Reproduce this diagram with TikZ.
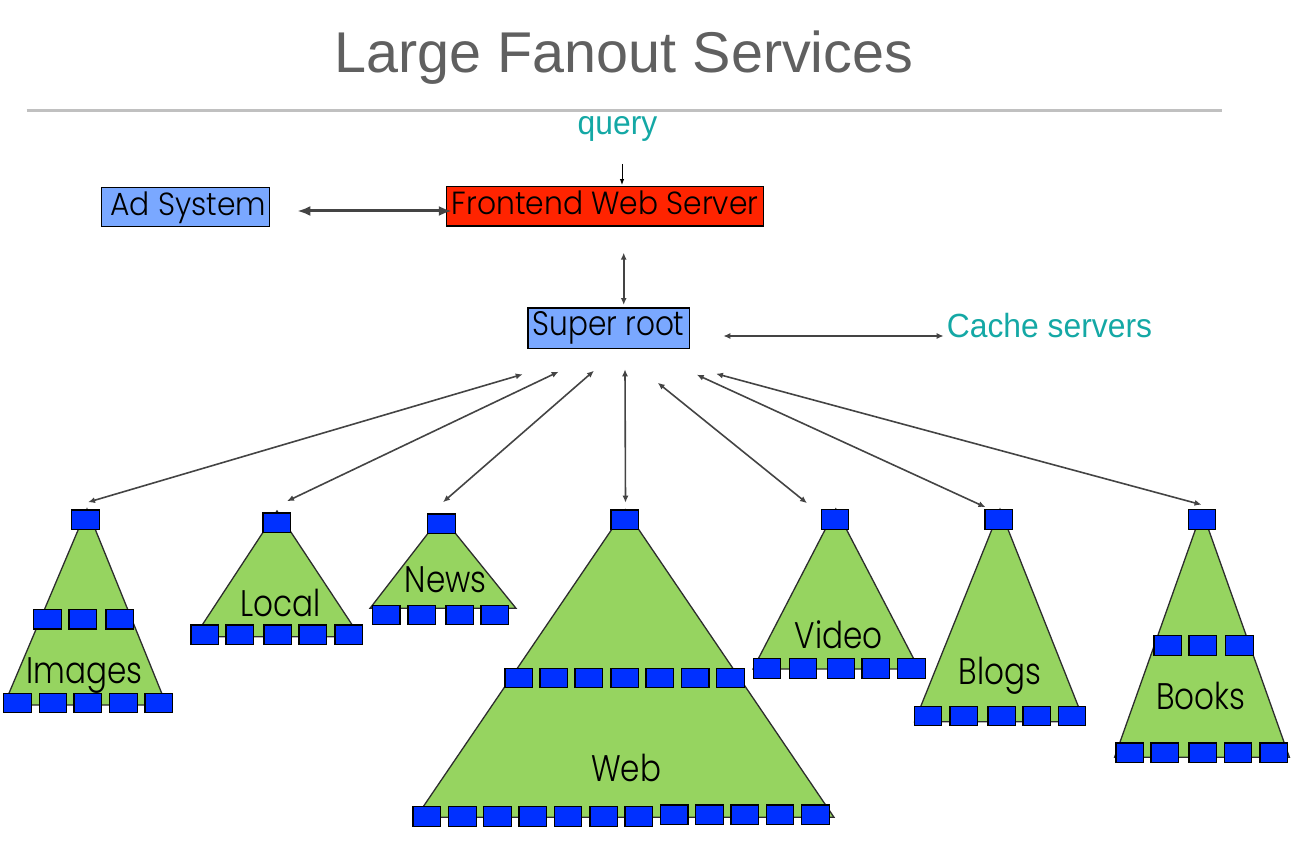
\documentclass[tikz,border=0pt]{standalone}
\usepackage{fontspec}
\setmainfont{Liberation Sans}
\newfontfamily\geo[FakeStretch=0.84]{Poppins Light}
\newfontfamily\geobox[FakeStretch=0.93]{Poppins Light}
\newfontfamily\geosr[FakeStretch=0.87]{Poppins Light}
\newfontfamily\nar[FakeStretch=0.95]{Liberation Sans}
\usetikzlibrary{arrows.meta}
\definecolor{sqblue}{RGB}{0,48,255}
\definecolor{trigreen}{RGB}{150,212,96}
\definecolor{triline}{RGB}{45,45,45}
\definecolor{boxblue}{RGB}{122,168,255}
\definecolor{boxred}{RGB}{255,36,0}
\definecolor{tealtxt}{RGB}{20,168,165}
\definecolor{titlegray}{RGB}{96,96,96}
\definecolor{rulegray}{RGB}{192,192,192}
\definecolor{arrowgray}{RGB}{68,68,68}
\begin{document}
\begin{tikzpicture}[x=1pt,y=-1pt,
  sq/.style={draw=black, line width=1.2pt, fill=sqblue, minimum width=27.6pt, minimum height=19.6pt, inner sep=0pt, outer sep=0pt},
  tri/.style={draw=triline, line width=1.3pt, fill=trigreen, line join=miter},
  box/.style={draw=black, line width=1.2pt, inner sep=0pt, outer sep=0pt, text=black},
  lbl/.style={anchor=base, inner sep=0pt, font=\geo\fontsize{37}{40}\selectfont},
  teallbl/.style={inner sep=0pt, text=tealtxt, font=\nar\fontsize{33.5}{36}\selectfont},
  conn/.style={draw=arrowgray, line width=1.6pt, >={Latex[length=7pt,width=6pt]}, <->},
  qarr/.style={draw=black, line width=1pt, ->, >={Latex[length=6pt,width=4.5pt]}}
]
\useasboundingbox (0,0) rectangle (1293,845);

% title and rule
\node[anchor=base, inner sep=0pt, text=titlegray, font=\fontsize{57.5}{60}\selectfont] (title) at (624,72.3) {Large Fanout Services};
\draw[rulegray, line width=3pt] (26.7,110.8) -- (1222,110.8);

% top boxes
\node[teallbl, anchor=base] (query) at (617.5,134.3) {query};
\node[box, fill=boxblue, minimum width=168pt, minimum height=39.4pt, text height=22.5pt, text depth=5pt, font=\geobox\fontsize{32}{34}\selectfont] (ad) at (185.7,207) {\hspace*{5pt}Ad System};
\node[box, fill=boxred, minimum width=317pt, minimum height=39.5pt, text height=22.5pt, text depth=6.6pt, font=\geobox\fontsize{32}{34}\selectfont] (fe) at (605.2,206.3) {Frontend Web Server};
\node[box, fill=boxblue, minimum width=161.2pt, minimum height=40.2pt, text height=24pt, text depth=8.6pt, font=\geosr\fontsize{34}{36}\selectfont] (sr) at (608.5,328) {Super root};
\node[teallbl, anchor=base west] (cache) at (946.7,337) {Cache servers};

% triangles
\draw[tri] (87,509) -- (4,705) -- (166.5,705) -- cycle;
\draw[tri] (277,511) -- (194.5,636.7) -- (360,636.7) -- cycle;
\draw[tri] (441.4,516) -- (370,608.3) -- (516,608.3) -- cycle;
\draw[tri] (625.2,509.6) -- (416,817.3) -- (834,817.3) -- cycle;
\draw[tri] (835.8,509) -- (753,669) -- (919,669) -- cycle;
\draw[tri] (1000,509.3) -- (914.6,721.7) -- (1084.4,721.7) -- cycle;
\draw[tri] (1202,511) -- (1114.6,757.3) -- (1289.4,757.3) -- cycle;

% Images
\node[sq] (img-t) at (85.5,519.7) {};
\foreach \x [count=\i] in {47.5,82.8,119.7} \node[sq] (img-m\i) at (\x,619.2) {};
\foreach \x [count=\i] in {17.5,53,87.8,123.3,158.7} \node[sq] (img-b\i) at (\x,703) {};
\node[lbl] (img-l) at (84.3,683.3) {Images};
% Local
\node[sq] (loc-t) at (276.7,522.8) {};
\foreach \x [count=\i] in {204.8,239.8,277.8,312.8,348.7} \node[sq] (loc-b\i) at (\x,634.7) {};
\node[lbl] (loc-l) at (280.3,616.7) {Local};
% News
\node[sq] (news-t) at (441.3,523.7) {};
\foreach \x [count=\i] in {386.2,421.8,459.8,494.8} \node[sq] (news-b\i) at (\x,615) {};
\node[lbl] (news-l) at (445.8,592.7) {News};
% Web
\node[sq] (web-t) at (624.7,519.7) {};
\foreach \x [count=\i] in {518.8,553.8,588.8,624.7,659.8,695.2,730.3} \node[sq] (web-m\i) at (\x,678) {};
\foreach \x [count=\i] in {426.8,462.3,497.5,532.8,568,603.8,638.8} \node[sq] (web-b\i) at (\x,816.3) {};
\foreach \x [count=\i] in {674.2,709.5,744.7,780,815.5} \node[sq] (web-c\i) at (\x,814.7) {};
\node[lbl] (web-l) at (626.2,781) {Web};
% Video
\node[sq] (vid-t) at (835,519.5) {};
\foreach \x [count=\i] in {767,803,841,875.7,911.3} \node[sq] (vid-b\i) at (\x,668.5) {};
\node[lbl] (vid-l) at (838.5,648) {Video};
% Blogs
\node[sq] (blog-t) at (998.8,519.5) {};
\foreach \x [count=\i] in {928,963.7,1001.7,1036.7,1072} \node[sq] (blog-b\i) at (\x,716) {};
\node[lbl] (blog-l) at (1000,684) {Blogs};
% Books
\node[sq] (book-t) at (1202,519.5) {};
\foreach \x [count=\i] in {1167.8,1202.8,1239.5} \node[sq] (book-m\i) at (\x,645.5) {};
\foreach \x [count=\i] in {1129.8,1164.8,1202.8,1238,1273.7} \node[sq] (book-b\i) at (\x,752.8) {};
\node[lbl] (book-l) at (1201,709) {Books};

% connectors
\coordinate (qx) at (622,0);
\draw[qarr, shorten <=22.4pt, shorten >=1.5pt] (query.south -| qx) -- (fe.north -| qx);
\coordinate (hy) at (0,211);
\draw[draw=arrowgray, line width=3pt, {Latex[length=13pt,width=10pt]}-{Latex[length=13pt,width=10pt]}, shorten <=27.6pt, shorten >=-5.1pt] (ad.east |- hy) -- (fe.west |- hy);
\coordinate (vx) at (623.7,0);
\draw[conn, shorten <=26.6pt, shorten >=2.9pt] (fe.south -| vx) -- (sr.north -| vx);
\coordinate (cy) at (0,336);
\draw[conn, shorten <=34.2pt, shorten >=3pt] (sr.east |- cy) -- (cache.west |- cy);

\coordinate (s1) at (522.7,374.3);
\coordinate (s2) at (558.7,371.7);
\coordinate (s3) at (594,370.7);
\coordinate (s4) at (625,369.3);
\coordinate (s5) at (657.7,382.7);
\coordinate (s6) at (696.7,374.7);
\coordinate (s7) at (716,373.7);
\draw[conn] (s1) -- ([xshift=2.5pt,yshift=7.7pt]img-t.north);
\draw[conn] (s2) -- ([xshift=10.3pt,yshift=11.8pt]loc-t.north);
\draw[conn] (s3) -- ([xshift=1.7pt,yshift=11.7pt]news-t.north);
\draw[conn] (s4) -- ([xshift=0.8pt,yshift=7.2pt]web-t.north);
\draw[conn] (s5) -- ([xshift=-28pt,yshift=6.5pt]vid-t.north);
\draw[conn] (s6) -- ([xshift=-13.3pt,yshift=2.5pt]blog-t.north);
\draw[conn] (s7) -- ([xshift=-0.5pt,yshift=5pt]book-t.north);
\end{tikzpicture}
\end{document}
